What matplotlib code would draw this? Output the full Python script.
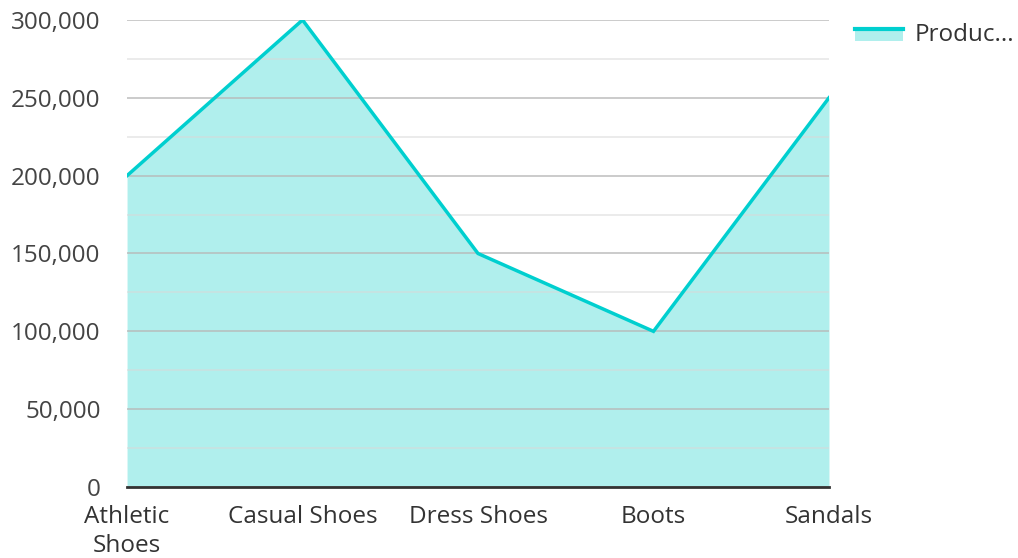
import matplotlib
matplotlib.use("Agg")
import matplotlib.pyplot as plt
from matplotlib.ticker import FuncFormatter, MultipleLocator
from matplotlib.legend_handler import HandlerBase
from matplotlib.patches import Rectangle
from matplotlib.lines import Line2D

categories = ["Athletic\nShoes", "Casual Shoes", "Dress Shoes", "Boots", "Sandals"]
values = [200000, 300000, 150000, 100000, 250000]
series_name = "Produc..."

plt.rcParams['font.family'] = ['Open Sans', 'DejaVu Sans']

line_color = "#00cfcf"
fill_color = "#b0efed"
FS = 17.5

fig = plt.figure(figsize=(10.18, 5.58), dpi=100)
ax = fig.add_axes([0.1248, 0.1272, 0.8143 - 0.1248, 0.9642 - 0.1272])

x = list(range(len(categories)))
ax.fill_between(x, values, 0, color=fill_color, zorder=1, linewidth=0)
ax.plot(x, values, color=line_color, linewidth=2.5, zorder=3, solid_joinstyle='miter')

ax.set_xlim(0, len(categories) - 1)
ax.set_ylim(0, 300000)
ax.yaxis.set_major_locator(MultipleLocator(50000))
ax.yaxis.set_minor_locator(MultipleLocator(25000))
ax.yaxis.set_major_formatter(FuncFormatter(lambda v, p: f"{int(v):,}"))
ax.set_xticks(x)
ax.set_xticklabels(categories)

ax.set_axisbelow(False)
ax.grid(axis='y', which='major', color='#b8b8b8', linewidth=1.2, alpha=0.85)
ax.grid(axis='y', which='minor', color='#d8d8d8', linewidth=1.2, alpha=0.6)
for s in ['top', 'right', 'left']:
    ax.spines[s].set_visible(False)
ax.spines['bottom'].set_color('#333333')
ax.spines['bottom'].set_linewidth(2)
ax.spines['bottom'].set_zorder(4)

ax.tick_params(axis='both', which='both', length=0, labelsize=FS, colors='#444444')
ax.tick_params(axis='y', pad=19)
ax.tick_params(axis='x', pad=13)
for lab in ax.get_xticklabels():
    lab.set_color('#333333')
    lab.set_linespacing(1.3)


class LineFillHandler(HandlerBase):
    def create_artists(self, legend, orig_handle, xdescent, ydescent, width, height, fontsize, trans):
        rect = Rectangle((-xdescent, -ydescent), width, height * 0.62,
                         facecolor=fill_color, edgecolor='none', transform=trans)
        ln = Line2D([-xdescent, -xdescent + width], [-ydescent + height * 0.68] * 2,
                    color=line_color, linewidth=3, transform=trans)
        return [rect, ln]


handle = Line2D([], [], color=line_color)
leg = fig.legend([handle], [series_name], handler_map={Line2D: LineFillHandler()},
                 loc='upper left', bbox_to_anchor=(0.818, 0.998), frameon=False,
                 fontsize=FS, handlelength=2.0, handletextpad=0.45)
for t in leg.get_texts():
    t.set_color('#333333')

fig.savefig("out.png", dpi=100)
